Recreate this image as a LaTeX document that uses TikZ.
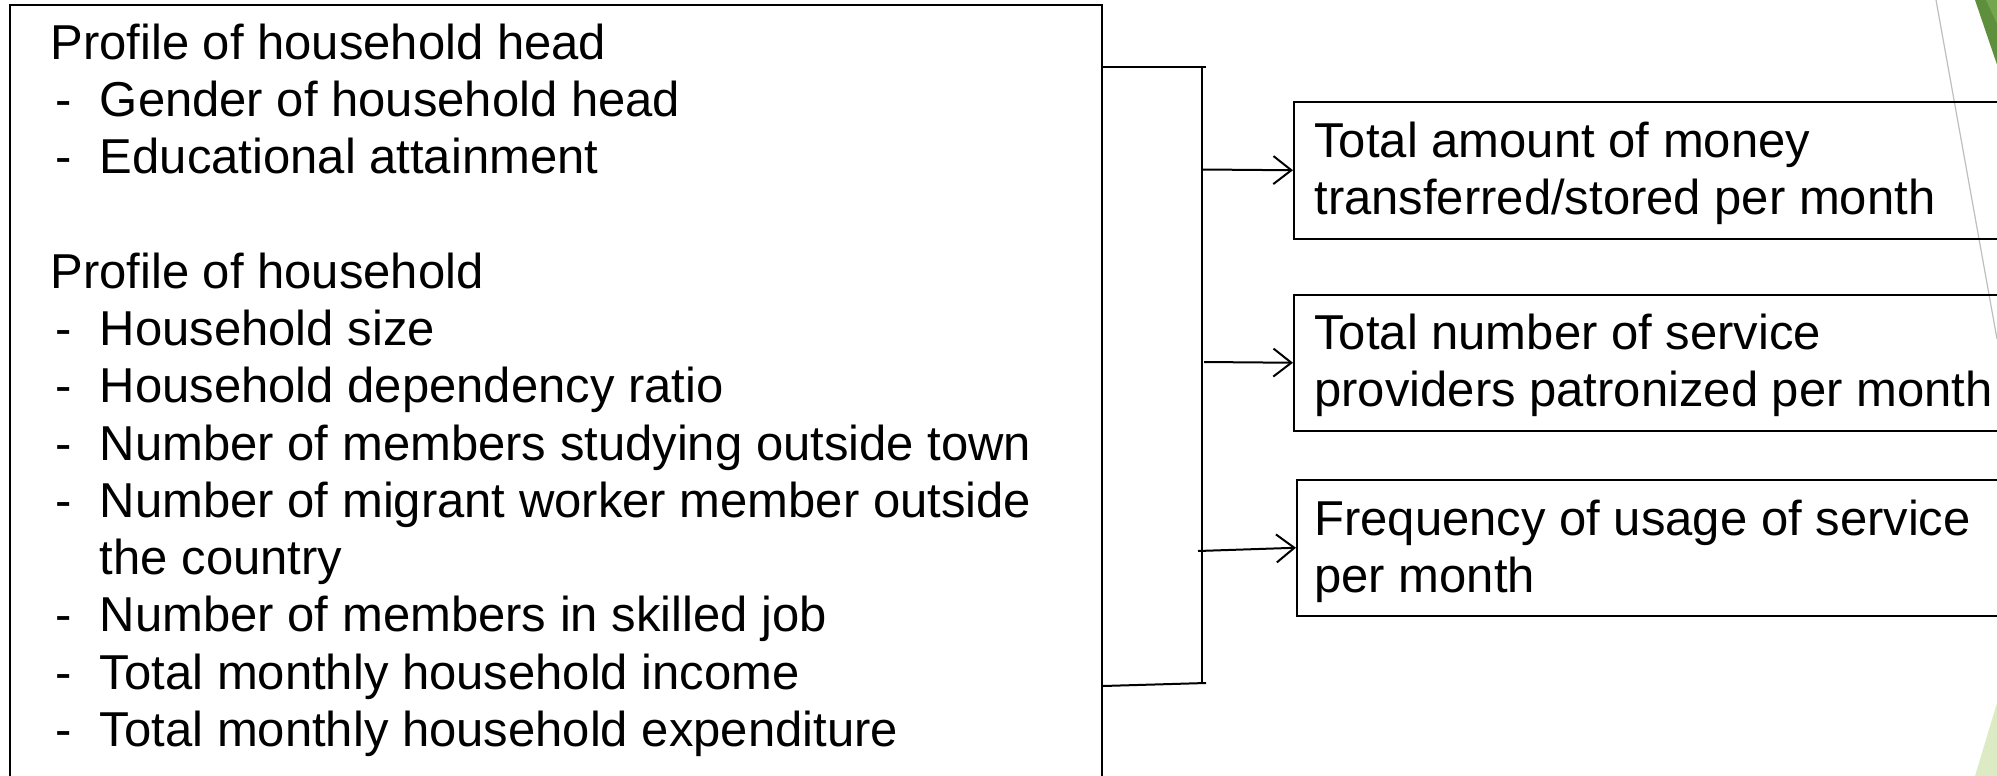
\documentclass[tikz,border=0pt]{standalone}
\usepackage{fontspec}
\setmainfont{Liberation Sans}
\usetikzlibrary{arrows.meta}
\newcommand\itm[1]{\makebox[24.75pt][l]{\hspace{2.5pt}-}#1}
\newcommand\cnt[1]{\hspace*{24.75pt}#1}
\tikzset{
  framebox/.style={draw, line width=0.75pt, inner sep=0pt, anchor=north west},
  bracketline/.style={line width=1pt},
  flowarrow/.style={line width=1pt, -{Straight Barb[length=9pt,width=14pt,line width=1pt]}},
  txt/.style={anchor=base west, inner sep=0pt, font=\fontsize{24.5}{28.65}\selectfont},
}
\begin{document}
\begin{tikzpicture}[x=0.5pt, y=-0.5pt]
\useasboundingbox (0,0) rectangle (1997,776);
\clip (0,0) rectangle (1997,776);
% theme decoration
\fill[fill={rgb,255:red,94;green,143;blue,60}] (1975,0) -- (2060,0) -- (2060,250) -- cycle;
\fill[fill={rgb,255:red,116;green,166;blue,80}] (1986,0) -- (2060,0) -- (2060,160) -- cycle;
\fill[fill={rgb,255:red,220;green,235;blue,196}] (1975,776) -- (2040,560) -- (2060,560) -- (2060,776) -- cycle;
\draw[line width=0.6pt, color={rgb,255:red,190;green,190;blue,190}] (1936,0) -- (1997,339);
% left box
\node[framebox, minimum width=546pt, minimum height=420pt] (lbox) at (9,4) {};
\node[txt] (ltext) at (50,59) {\begin{tabular}[t]{@{}l@{}}
Profile of household head\\
\itm{Gender of household head}\\
\itm{Educational attainment}\\
\\
Profile of household\\
\itm{Household size}\\
\itm{Household dependency ratio}\\
\itm{Number of members studying outside town}\\
\itm{Number of migrant worker member outside}\\
\cnt{the country}\\
\itm{Number of members in skilled job}\\
\itm{Total monthly household income}\\
\itm{Total monthly household expenditure}
\end{tabular}};
% outcome boxes
\node[framebox, minimum width=400pt, minimum height=68.5pt] (o1) at (1293,101) {};
\node[framebox, minimum width=400pt, minimum height=68pt] (o2) at (1293,294) {};
\node[framebox, minimum width=400pt, minimum height=68pt] (o3) at (1296,479) {};
\node[txt] (t1) at (1314,157) {\begin{tabular}[t]{@{}l@{}}Total amount of money\\ transferred/stored per month\end{tabular}};
\node[txt] (t2) at (1314,349) {\begin{tabular}[t]{@{}l@{}}Total number of service\\ providers patronized per month\end{tabular}};
\node[txt] (t3) at (1314,535) {\begin{tabular}[t]{@{}l@{}}Frequency of usage of service\\ per month\end{tabular}};
% bracket
\coordinate (btop) at (1206,67);
\coordinate (bbot) at (1206,683);
\coordinate (vtop) at (1202,67);
\coordinate (vbot) at (1202,683);
\coordinate (lbot) at (1103,686);
\draw[bracketline] (lbox.east |- btop) -- (btop);
\draw[bracketline] (vtop) -- (vbot);
\draw[bracketline] (lbot) -- (bbot);
\coordinate (a1) at (1202,169.5);
\coordinate (a2) at (1204,362);
\coordinate (a3) at (1198,551);
\draw[flowarrow] (a1) -- (o1.west);
\draw[flowarrow] (a2) -- (o2.west);
\draw[flowarrow] (a3) -- (o3.west);
\end{tikzpicture}
\end{document}
